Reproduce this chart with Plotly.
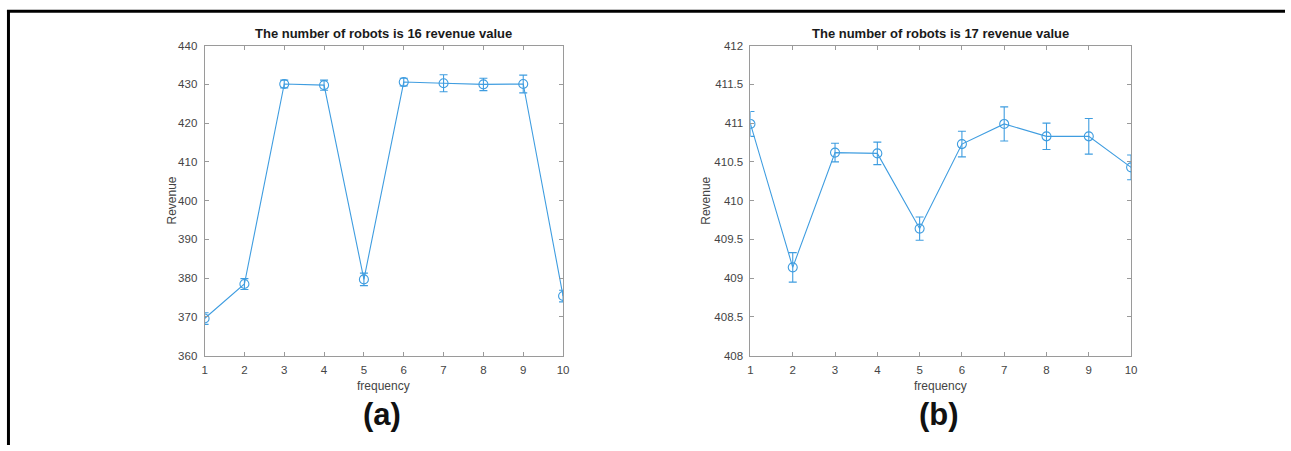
import plotly.graph_objects as go

# Revenue per frequency setting, mean and error half-width
frequency = [1, 2, 3, 4, 5, 6, 7, 8, 9, 10]

revenue_16 = [369.6, 378.5, 430.1, 429.8, 379.7, 430.6, 430.3, 430.0, 430.1, 375.4]
err_16 = [1.5, 1.4, 1.0, 1.3, 1.6, 1.0, 2.2, 1.6, 2.3, 1.5]

revenue_17 = [410.99, 409.14, 410.62, 410.61, 409.64, 410.73, 410.99, 410.83, 410.83, 410.43]
err_17 = [0.16, 0.19, 0.12, 0.145, 0.15, 0.165, 0.22, 0.17, 0.23, 0.16]

y_ticks_16 = [360, 370, 380, 390, 400, 410, 420, 430, 440]
y_ticks_17 = [408, 408.5, 409, 409.5, 410, 410.5, 411, 411.5, 412]
y_ticktext_17 = ["408", "408.5", "409", "409.5", "410", "410.5", "411", "411.5", "412"]

titles = ["The number of robots is 16 revenue value",
          "The number of robots is 17 revenue value"]
panel_tags = ["(a)", "(b)"]

W, H = 1291, 451
LINE = "#3f9de0"
AXIS = "#9a9a9a"
FAMILY = "Arial, Liberation Sans, sans-serif"
TICKFONT = dict(family=FAMILY, size=11.5, color="#444444")


def px(x):
    return x / W


def py(y):
    return 1 - y / H


fig = go.Figure()

for xs, ys, errs, xa, ya in [(frequency, revenue_16, err_16, "x", "y"),
                             (frequency, revenue_17, err_17, "x2", "y2")]:
    fig.add_trace(go.Scatter(
        x=xs, y=ys, mode="lines+markers",
        line=dict(color=LINE, width=1.1),
        marker=dict(symbol="circle-open", size=9, color=LINE, line=dict(width=1.1)),
        error_y=dict(type="data", array=errs, color=LINE, thickness=1.1, width=4),
        xaxis=xa, yaxis=ya, showlegend=False,
    ))

y_dom = [py(359.3), py(40.7)]
left_dom = [px(203), px(564)]
right_dom = [px(752.7), px(1136)]

common_axis = dict(
    showline=True, linecolor=AXIS, linewidth=1, mirror="ticks",
    ticks="inside", ticklen=4, tickcolor=AXIS, showgrid=False, zeroline=False,
    tickfont=TICKFONT, fixedrange=True,
)

fig.update_layout(
    width=W, height=H,
    margin=dict(l=0, r=0, t=0, b=0),
    paper_bgcolor="white", plot_bgcolor="white",
    xaxis=dict(domain=left_dom, range=[1, 10], tickvals=frequency, anchor="y",
               ticklabelstandoff=3, **common_axis),
    yaxis=dict(domain=y_dom, range=[360, 440], tickvals=y_ticks_16, anchor="x",
               ticklabelstandoff=4, **common_axis),
    xaxis2=dict(domain=right_dom, range=[1, 10], tickvals=frequency, anchor="y2",
                ticklabelstandoff=3, **common_axis),
    yaxis2=dict(domain=y_dom, range=[408, 412], tickvals=y_ticks_17, ticktext=y_ticktext_17,
                anchor="x2", ticklabelstandoff=4, **common_axis),
)

annotations = []
for dom, title, tag, ylab_x in [(left_dom, titles[0], panel_tags[0], 170),
                                (right_dom, titles[1], panel_tags[1], 708)]:
    cx = (dom[0] + dom[1]) / 2
    annotations.append(dict(
        x=cx, y=py(28), xref="paper", yref="paper", text="<b>" + title + "</b>",
        showarrow=False, xanchor="center", yanchor="middle",
        font=dict(family=FAMILY, size=13, color="#1a1a1a"),
    ))
    annotations.append(dict(
        x=cx, y=py(390.5), xref="paper", yref="paper", text="frequency",
        showarrow=False, xanchor="center", yanchor="middle",
        font=dict(family=FAMILY, size=12, color="#444444"),
    ))
    annotations.append(dict(
        x=px(ylab_x), y=py(200), xref="paper", yref="paper", text="Revenue",
        showarrow=False, xanchor="center", yanchor="middle", textangle=-90,
        font=dict(family=FAMILY, size=12, color="#444444"),
    ))
    annotations.append(dict(
        x=cx - px(2), y=py(419.5), xref="paper", yref="paper", text="<b>" + tag + "</b>",
        showarrow=False, xanchor="center", yanchor="middle",
        font=dict(family=FAMILY, size=31, color="#111111"),
    ))
fig.update_layout(annotations=annotations)

# Frame lines along the top and left edges
fig.add_shape(type="line", xref="paper", yref="paper",
              x0=px(4), x1=1, y0=py(5.5), y1=py(5.5),
              line=dict(color="black", width=3))
fig.add_shape(type="line", xref="paper", yref="paper",
              x0=px(5.5), x1=px(5.5), y0=py(4), y1=0,
              line=dict(color="black", width=3))

fig.write_html("out.html")
